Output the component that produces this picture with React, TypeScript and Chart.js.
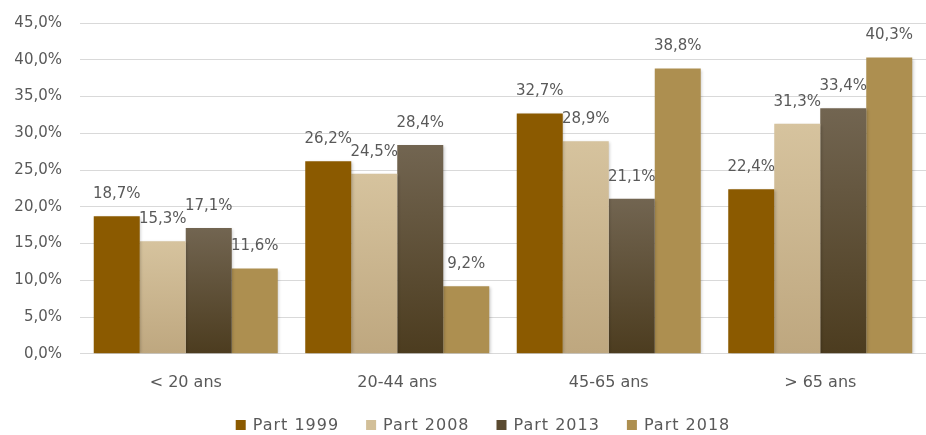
import React, { useEffect, useRef } from "react";
import { Chart, registerables } from "chart.js";

Chart.register(...registerables);

const categories = ["< 20 ans", "20-44 ans", "45-65 ans", "> 65 ans"];
const part1999 = [18.7, 26.2, 32.7, 22.4];
const part2008 = [15.3, 24.5, 28.9, 31.3];
const part2013 = [17.1, 28.4, 21.1, 33.4];
const part2018 = [11.6, 9.2, 38.8, 40.3];
const yTicks = [0, 5, 10, 15, 20, 25, 30, 35, 40, 45];
const legendSwatches = ["#8b5a00", "#d2bf98", "#5a4a30", "#ad8f50"];

const FONT = "'DejaVu Sans', sans-serif";
const TEXT = "#595959";

const fmt = (v: number) => v.toFixed(1).replace(".", ",") + "%";

// vertical gradient from the top of each bar down to the baseline
function barGradient(top: string, bottom: string, solid: string) {
  return (ctx: any) => {
    if (ctx.type !== "data") return solid;
    const chart = ctx.chart;
    const y = chart.scales?.y;
    if (!y) return solid;
    const yTop = y.getPixelForValue(ctx.raw);
    const yBot = y.getPixelForValue(0);
    if (!isFinite(yTop) || !isFinite(yBot) || yTop === yBot) return solid;
    const g = chart.ctx.createLinearGradient(0, yTop, 0, yBot);
    g.addColorStop(0, top);
    g.addColorStop(1, bottom);
    return g;
  };
}

const shadowPlugin = {
  id: "barShadow",
  beforeDatasetsDraw(chart: any) {
    const c = chart.ctx;
    c.save();
    c.shadowColor = "rgba(0,0,0,0.22)";
    c.shadowBlur = 3;
    c.shadowOffsetX = 1.5;
    c.shadowOffsetY = 1;
  },
  afterDatasetsDraw(chart: any) {
    chart.ctx.restore();
  },
};

const valueLabels = {
  id: "valueLabels",
  afterDatasetsDraw(chart: any) {
    const c = chart.ctx;
    c.save();
    (c as any).letterSpacing = "0px";
    c.font = `15px ${FONT}`;
    c.fillStyle = TEXT;
    c.textAlign = "center";
    c.textBaseline = "middle";
    chart.data.datasets.forEach((ds: any, i: number) => {
      const meta = chart.getDatasetMeta(i);
      meta.data.forEach((bar: any, j: number) => {
        c.fillText(fmt(ds.data[j]), bar.x, bar.y - 22);
      });
    });
    c.restore();
  },
};

// legend row along the bottom edge: square swatch, then the series name
const bottomLegend = {
  id: "bottomLegend",
  afterDraw(chart: any) {
    const c = chart.ctx;
    c.save();
    c.font = `16px ${FONT}`;
    (c as any).letterSpacing = "1px";
    c.textBaseline = "middle";
    const box = 10;
    const gapText = 7;
    const gapItem = 27;
    const names = chart.data.datasets.map((d: any) => d.label as string);
    const widths = names.map((n: string) => c.measureText(n).width);
    const total =
      widths.reduce((a: number, w: number) => a + box + gapText + w, 0) +
      gapItem * (names.length - 1);
    let x = chart.width / 2 + 20 - total / 2;
    const y = chart.height - 10;
    names.forEach((n: string, i: number) => {
      c.fillStyle = legendSwatches[i];
      c.fillRect(x, y - box / 2, box, box);
      c.fillStyle = TEXT;
      c.textAlign = "left";
      c.fillText(n, x + box + gapText, y + 1);
      x += box + gapText + widths[i] + gapItem;
    });
    (c as any).letterSpacing = "0px";
    c.restore();
  },
};

export default function App() {
  const ref = useRef<HTMLCanvasElement | null>(null);

  useEffect(() => {
    document.body.style.margin = "0";
    const canvas = ref.current;
    if (!canvas) return;
    const chart = new Chart(canvas, {
      type: "bar",
      data: {
        labels: categories,
        datasets: [
          { label: "Part 1999", data: part1999, backgroundColor: "#8b5a00" },
          {
            label: "Part 2008",
            data: part2008,
            backgroundColor: barGradient("#d6c39e", "#bea77f", "#d2bf98"),
          },
          {
            label: "Part 2013",
            data: part2013,
            backgroundColor: barGradient("#726551", "#4c3c1f", "#5a4a30"),
          },
          { label: "Part 2018", data: part2018, backgroundColor: "#ad8f50" },
        ],
      },
      options: {
        animation: false,
        responsive: false,
        maintainAspectRatio: false,
        datasets: {
          bar: {
            categoryPercentage: 0.87,
            barPercentage: 1.0,
            borderWidth: 0,
          },
        },
        layout: { padding: { top: 0, right: 0, left: 0, bottom: 24 } },
        scales: {
          x: {
            grid: { display: false, drawTicks: false },
            border: { display: true, color: "#d9d9d9", width: 1 },
            ticks: {
              color: TEXT,
              font: { family: FONT, size: 16 },
              padding: 19,
            },
          },
          y: {
            min: 0,
            max: 45,
            afterFit(scale: any) {
              scale.width = 80;
              scale.paddingTop = 23;
            },
            afterBuildTicks(scale: any) {
              scale.ticks = yTicks.map((v) => ({ value: v }));
            },
            grid: { color: "#d9d9d9", lineWidth: 1, drawTicks: false },
            border: { display: false },
            ticks: {
              color: TEXT,
              font: { family: FONT, size: 15 },
              padding: 18,
              callback: (v: any) => fmt(Number(v)),
            },
          },
        },
        plugins: {
          legend: { display: false },
          tooltip: { enabled: false },
        },
      },
      plugins: [shadowPlugin, valueLabels, bottomLegend],
    });
    return () => chart.destroy();
  }, []);

  return (
    <div style={{ width: 926, height: 435, background: "#fff" }}>
      <canvas ref={ref} width={926} height={435} style={{ display: "block" }} />
    </div>
  );
}
